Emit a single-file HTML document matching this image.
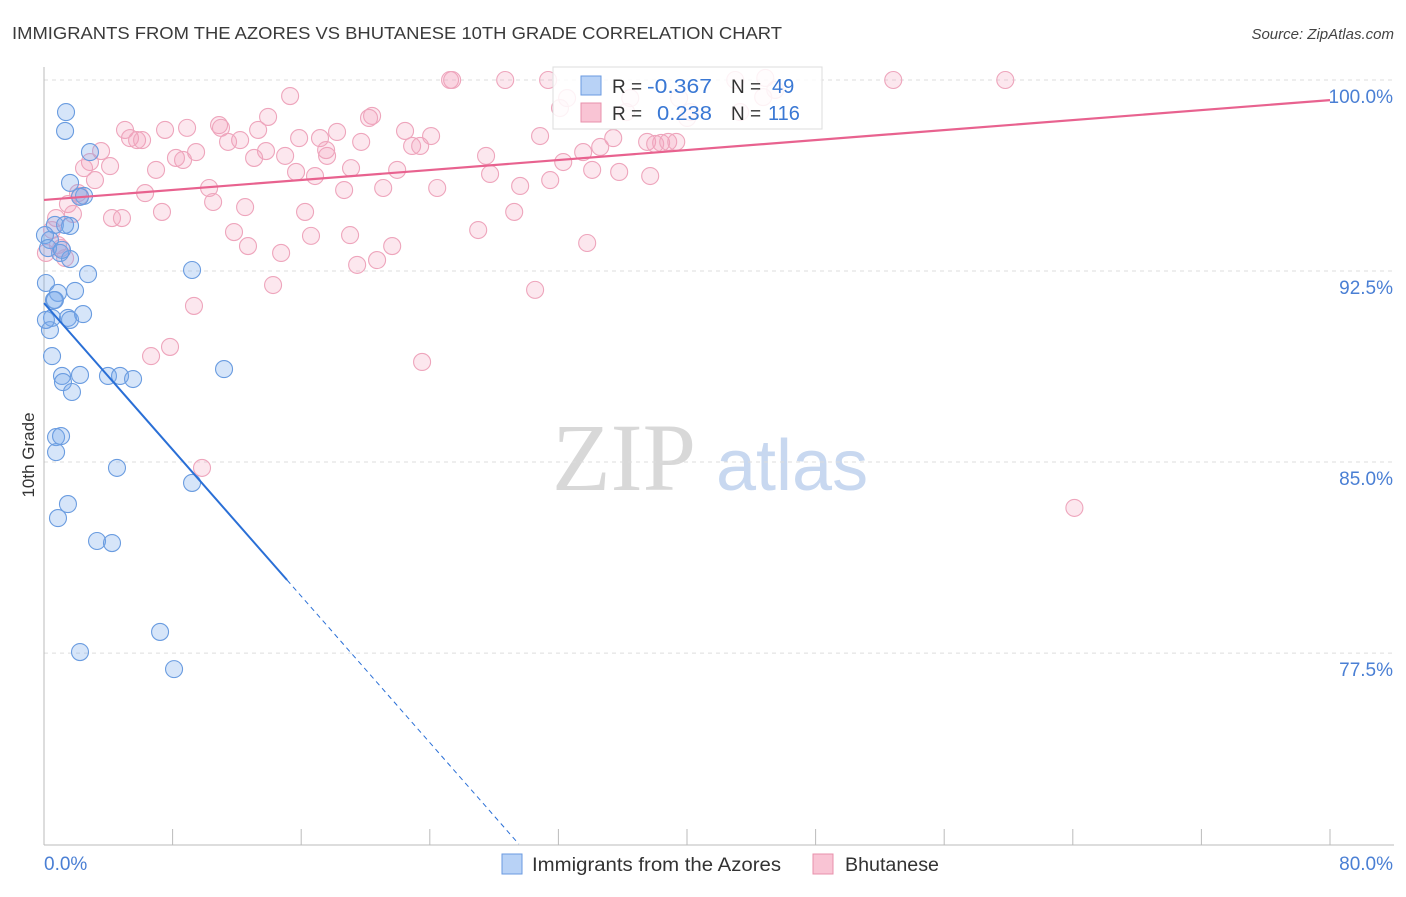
<!DOCTYPE html>
<html><head><meta charset="utf-8"><style>
body{margin:0;background:#fff;font-family:"Liberation Sans",sans-serif;}
svg text{font-family:"Liberation Sans",sans-serif;}
</style></head><body>
<svg id="chart" width="1406" height="892" xmlns="http://www.w3.org/2000/svg">
<text x="12" y="39" font-size="17.5" fill="#3a3a3a" textLength="770" lengthAdjust="spacingAndGlyphs">IMMIGRANTS FROM THE AZORES VS BHUTANESE 10TH GRADE CORRELATION CHART</text>
<text x="1394" y="39" font-size="15" fill="#444" text-anchor="end" font-style="italic">Source: ZipAtlas.com</text>
<g>
<text x="552" y="490" font-size="96" fill="#d8d8d8" font-family="Liberation Serif" style="font-family:'Liberation Serif',serif">ZIP</text>
<text x="716" y="490" font-size="72" fill="#c8d8f0">atlas</text>
</g>
<g id="grid"></g>
<g id="axes"></g>
<g id="pts"></g>
<g id="trends"></g>
<text transform="translate(34,455) rotate(-90)" font-size="17" fill="#333" text-anchor="middle">10th Grade</text>
<g>
<rect x="553" y="67" width="269" height="62" fill="#fff" fill-opacity="0.85" stroke="#ddd"/>
<rect x="581" y="76" width="20" height="19" fill="#b8d2f6" stroke="#6a9ae0"/>
<rect x="581" y="103" width="20" height="19" fill="#f9c4d4" stroke="#e890ab"/>
<text x="612" y="93" font-size="19" fill="#333">R =</text>
<text x="647" y="93" font-size="20" fill="#3a78d4" textLength="65" lengthAdjust="spacingAndGlyphs">-0.367</text>
<text x="731" y="93" font-size="19" fill="#333">N =</text>
<text x="772" y="93" font-size="20" fill="#3a78d4">49</text>
<text x="612" y="120" font-size="19" fill="#333">R =</text>
<text x="657" y="120" font-size="20" fill="#3a78d4" textLength="55" lengthAdjust="spacingAndGlyphs">0.238</text>
<text x="731" y="120" font-size="19" fill="#333">N =</text>
<text x="768" y="120" font-size="20" fill="#3a78d4">116</text>
</g>
<g>
<rect x="502" y="854" width="20" height="20" fill="#b8d2f6" stroke="#6a9ae0"/>
<text x="532" y="871" font-size="19" fill="#333" textLength="249" lengthAdjust="spacingAndGlyphs">Immigrants from the Azores</text>
<rect x="813" y="854" width="20" height="20" fill="#f9c4d4" stroke="#e890ab"/>
<text x="845" y="871" font-size="19" fill="#333" textLength="94" lengthAdjust="spacingAndGlyphs">Bhutanese</text>
</g>
</svg>
<script>
const yTicks=[100,92.5,85,77.5];
const yTickLabels=["100.0%","92.5%","85.0%","77.5%"];
const xEnds=["0.0%","80.0%"];
const blueX=[1.37,1.31,2.86,1.62,2.49,2.24,0.37,0.68,1.62,1.0,1.62,2.74,0.12,0.87,1.93,0.62,0.5,1.49,1.62,2.43,0.37,0.5,1.12,1.18,1.74,2.24,3.98,4.73,5.54,9.21,11.2,0.75,1.06,0.75,4.54,9.21,1.49,0.87,3.3,4.23,7.22,2.24,8.09,0.06,0.25,0.12,1.12,0.68,1.31];
const blueY=[98.74,98.0,97.17,95.96,95.45,95.41,93.72,94.31,94.27,93.21,92.97,92.38,92.03,91.64,91.72,91.36,90.66,90.66,90.58,90.81,90.18,89.16,88.38,88.14,87.75,88.42,88.38,88.38,88.26,92.54,88.65,85.98,86.02,85.39,84.77,84.18,83.35,82.8,81.9,81.82,78.33,77.54,76.87,93.91,93.4,90.58,93.33,91.36,94.31];
const pinkX=[25.39,28.69,31.36,43.0,52.83,59.8,25.26,15.31,32.54,39.51,40.2,36.22,32.1,20.41,20.22,13.94,5.04,7.53,8.9,10.89,11.01,13.32,22.46,24.08,30.86,5.35,5.79,6.1,12.2,11.45,15.87,17.17,18.23,19.73,22.9,23.4,33.54,34.6,35.41,37.52,38.39,38.02,38.83,39.33,9.46,8.65,8.21,13.81,13.07,15.0,17.61,17.55,3.55,2.86,4.11,2.49,6.97,15.68,16.86,19.1,21.97,27.75,27.5,32.3,34.1,35.78,37.71,3.17,31.49,10.27,6.29,18.67,21.1,24.46,29.62,2.12,2.24,10.52,1.49,1.8,4.23,4.85,7.34,12.51,16.24,29.25,11.82,16.61,19.04,27.01,0.75,0.5,33.79,12.69,14.75,21.66,19.48,20.72,0.87,1.06,0.12,1.31,14.25,30.55,9.33,7.84,6.66,23.52,9.83,64.1,43.31,44.87,45.49,44.74,36.47,40.01];
const pinkY=[100,100,100,100,100,100,100,99.37,99.29,99.29,98.74,98.74,98.9,98.59,98.51,98.55,98.04,98.04,98.12,98.23,98.12,98.04,98.0,97.8,97.8,97.72,97.64,97.64,97.64,97.57,97.72,97.72,97.96,97.57,97.41,97.41,97.17,97.37,97.72,97.57,97.53,97.49,97.57,97.57,97.17,96.86,96.94,97.21,96.94,97.02,97.02,97.25,97.21,96.78,96.62,96.54,96.47,96.39,96.23,96.54,96.47,96.31,97.02,96.78,96.47,96.39,96.23,96.07,96.07,95.76,95.56,95.68,95.76,95.76,95.84,95.56,95.45,95.21,95.13,94.74,94.58,94.58,94.82,95.01,94.82,94.82,94.03,93.88,93.91,94.11,94.58,94.11,93.6,93.48,93.21,93.48,92.74,92.93,93.52,93.4,93.21,93.01,91.95,91.76,91.13,89.52,89.16,88.93,84.77,83.2,98.74,100.08,99.61,99.33,99.29,98.51];
const blueTrend=[91.24,-0.719];
const pinkTrend=[95.29,0.049];

const NS="http://www.w3.org/2000/svg";
const sx=v=>44+v*16.075;
const sy=v=>80+(100-v)*25.47;
function mk(tag,attrs,parent){const e=document.createElementNS(NS,tag);for(const k in attrs)e.setAttribute(k,attrs[k]);parent.appendChild(e);return e;}
const grid=document.getElementById('grid'),axes=document.getElementById('axes'),pts=document.getElementById('pts'),tr=document.getElementById('trends');
yTicks.forEach((t,i)=>{
 const l=mk('line',{x1:44,x2:1394,y1:sy(t),y2:sy(t),stroke:'#ddd','stroke-dasharray':'4,4'},grid);
 
 
 const tx=mk('text',{x:1393,y:sy(t)+23,'font-size':19,fill:'#4a7fd4','text-anchor':'end'},axes);
 tx.textContent=yTickLabels[i];
 
 
});
const ya=mk('line',{x1:44,x2:44,y1:67,y2:845,stroke:'#bbb'},axes);


const xa=mk('line',{x1:44,x2:1394,y1:845,y2:845,stroke:'#bbb'},axes);


for(let i=0;i<=10;i++){
 const tk=mk('line',{x1:sx(i*8),x2:sx(i*8),y1:829,y2:845,stroke:'#bbb'},axes);
 
 
}
const xl0=mk('text',{x:44,y:870,'font-size':19,fill:'#4a7fd4'},axes);xl0.textContent=xEnds[0];


const xl1=mk('text',{x:1393,y:870,'font-size':19,fill:'#4a7fd4','text-anchor':'end'},axes);xl1.textContent=xEnds[1];


pinkX.forEach((x,i)=>{
 const c=mk('circle',{cx:sx(x),cy:sy(pinkY[i]),r:8.5,fill:'rgba(244,160,186,0.25)',stroke:'#eea5bc','stroke-width':1.1},pts);
 
 
});
blueX.forEach((x,i)=>{
 const c=mk('circle',{cx:sx(x),cy:sy(blueY[i]),r:8.5,fill:'rgba(120,170,235,0.3)',stroke:'#6a9ce0','stroke-width':1.1},pts);
 
 
});
const bEnd=15.12, bZero=(blueTrend[0]-70)/-blueTrend[1];
const b1=mk('line',{x1:sx(0),y1:sy(blueTrend[0]),x2:sx(bEnd),y2:sy(blueTrend[0]+blueTrend[1]*bEnd),stroke:'#2a6fd6','stroke-width':2},tr);


const b2=mk('line',{x1:sx(bEnd),y1:sy(blueTrend[0]+blueTrend[1]*bEnd),x2:sx(bZero),y2:sy(70),stroke:'#2a6fd6','stroke-width':1,'stroke-dasharray':'5,4'},tr);


const p1=mk('line',{x1:sx(0),y1:sy(pinkTrend[0]),x2:sx(80),y2:sy(pinkTrend[0]+pinkTrend[1]*80),stroke:'#e8628f','stroke-width':2.2},tr);


</script>
</body></html>
